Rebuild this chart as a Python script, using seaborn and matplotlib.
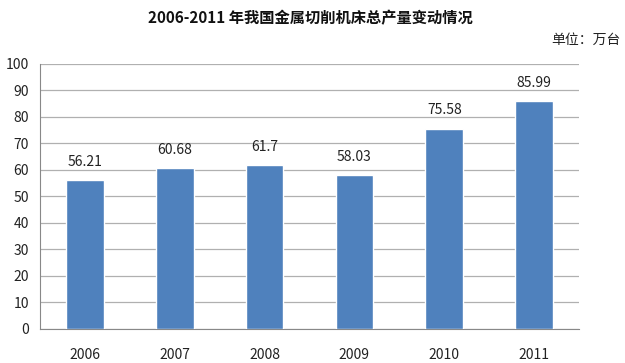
import matplotlib
matplotlib.use("Agg")
import matplotlib.pyplot as plt
import seaborn as sns
import pandas as pd
import numpy as np

years = ["2006", "2007", "2008", "2009", "2010", "2011"]
output = [56.21, 60.68, 61.7, 58.03, 75.58, 85.99]
value_labels = ["56.21", "60.68", "61.7", "58.03", "75.58", "85.99"]
yticks = [0, 10, 20, 30, 40, 50, 60, 70, 80, 90, 100]

sns.set_style("white")
plt.rcParams["font.family"] = ["Noto Sans CJK SC", "DejaVu Sans"]

df = pd.DataFrame({"year": years, "output": output})

fig = plt.figure(figsize=(6.25, 3.63), dpi=100)
ax = fig.add_axes([0.064, 0.094, 0.8624, 0.73])

sns.barplot(data=df, x="year", y="output", color="#4F81BD", saturation=1,
            width=0.42, ax=ax, zorder=3)

ax.set_ylim(0, 100)
ax.set_xlim(-0.5, 5.5)
ax.set_yticks(yticks)
ax.set_yticklabels([str(t) for t in yticks], fontsize=10, color="#222222")
ax.yaxis.grid(True, color="#b0b0b0", linewidth=0.9, zorder=0)
ax.set_axisbelow(True)

ax.set_xticks(range(len(years)))
ax.set_xticklabels(years, fontsize=10, color="#222222")
ax.set_xticks(np.arange(-0.5, len(years), 1.0), minor=True)
ax.tick_params(axis="x", which="major", length=0, pad=14)
ax.tick_params(axis="x", which="minor", length=4, color="#888888", direction="out")
ax.tick_params(axis="y", length=4, color="#888888", direction="out", pad=4)
ax.set_xlabel("")
ax.set_ylabel("")

for s in ["top", "right"]:
    ax.spines[s].set_visible(False)
ax.spines["left"].set_color("#888888")
ax.spines["bottom"].set_color("#888888")

for i, (v, lab) in enumerate(zip(output, value_labels)):
    ax.annotate(lab, (i, v), xytext=(0, 8), textcoords="offset points",
                ha="center", va="bottom", fontsize=10, color="#222222")

fig.text(0.496, 0.95, "2006-2011 年我国金属切削机床总产量变动情况",
         ha="center", va="center", fontsize=11, fontweight="bold", color="#111111")
fig.text(0.993, 0.89, "单位：万台", ha="right", va="center", fontsize=10, color="#222222")

fig.savefig("out.png", dpi=100)
